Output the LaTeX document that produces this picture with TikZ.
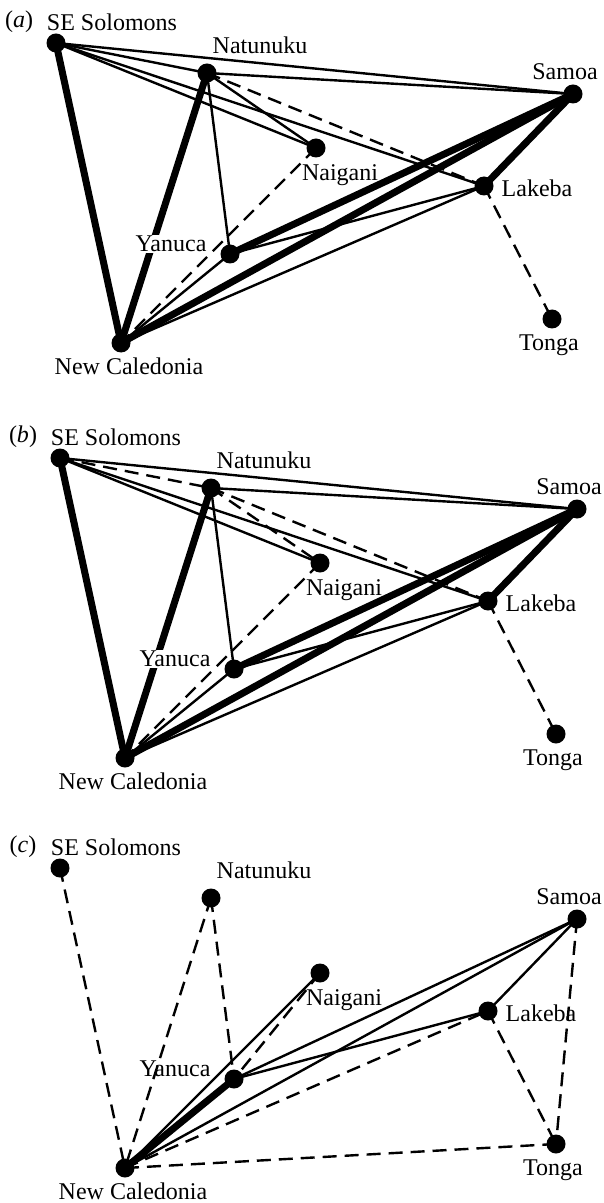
\documentclass[tikz,border=0pt]{standalone}
\usepackage{fontspec}
\setmainfont{Liberation Serif}
\usetikzlibrary{backgrounds}

\tikzset{
  dot/.style={circle, fill=black, inner sep=0pt, minimum size=9.5pt},
  place/.style={font=\fontsize{12}{14}\selectfont, inner sep=0.5pt},
  gap/.style={fill=white},
  link/.style={line width=1.2pt},
  heavy/.style={line width=3.5pt},
  faint/.style={line width=1.2pt, dash pattern=on 7pt off 4pt},
}

% the eight islands of one panel, #1 = prefix of the names, #2 = panel letter
\def\islands#1#2{%
  \node[place] (#1tag) at (23,437) {(\textit{#2})};
  \node[dot] (#1ses) at (60,458) {};
  \node[dot] (#1nat) at (211,488) {};
  \node[dot] (#1sam) at (577,509) {};
  \node[dot] (#1nai) at (320,563) {};
  \node[dot] (#1lak) at (488,601) {};
  \node[dot] (#1yan) at (234,669) {};
  \node[dot] (#1nc) at (125,758) {};
  \node[dot] (#1ton) at (556,734) {};
  \node[place] (#1seslab) at (116,437) {SE Solomons};
  \node[place] (#1natlab) at (264,460) {Natunuku};
  \node[place] (#1samlab) at (569,487) {Samoa};
  \node[place] (#1nailab) at (344,590) {Naigani};
  \node[place] (#1laklab) at (541,603) {Lakeba};
  \node[place, gap] (#1yanlab) at (175,659) {Yanuca};
  \node[place] (#1nclab) at (133,781) {New Caledonia};
  \node[place] (#1tonlab) at (553,760) {Tonga};
}

\begin{document}
\begin{tikzpicture}[x=0.5pt, y=-0.5pt]
			\useasboundingbox (0,0) rectangle (604,1203);
			
			%%%%% (a) %%%%%
			\begin{scope}[shift={(-4,-415)}]
				\islands{a}{a}
			\end{scope}
			\begin{scope}[on background layer]
				\draw[link] (ases.center) -- (asam.center);
				\draw[link] (ases.center) -- (anat.center);
				\draw[link] (ases.center) -- (anai.center);
				\draw[link] (ases.center) -- (alak.center);
				\draw[heavy] (ases.center) -- (anc.center);
				\draw[link] (anat.center) -- (asam.center);
				\draw[link] (anat.center) -- (anai.center);
				\draw[faint] (anat.center) -- (alak.center);
				\draw[link] (anat.center) -- (ayan.center);
				\draw[heavy] (anat.center) -- (anc.center);
				\draw[faint] (anai.center) -- (anc.center);
				\draw[link] (ayan.center) -- (anc.center);
				\draw[heavy] (ayan.center) -- (asam.center);
				\draw[link] (ayan.center) -- (alak.center);
				\draw[heavy] (anc.center) -- (asam.center);
				\draw[link] (anc.center) -- (alak.center);
				\draw[heavy] (asam.center) -- (alak.center);
				\draw[faint] (alak.center) -- (aton.center);
			\end{scope}
			
			%%%%% (b) %%%%%
			\islands{b}{b}
			\begin{scope}[on background layer]
				\draw[link] (bses.center) -- (bsam.center);
				\draw[faint] (bses.center) -- (bnat.center);
				\draw[link] (bses.center) -- (bnai.center);
				\draw[link] (bses.center) -- (blak.center);
				\draw[heavy] (bses.center) -- (bnc.center);
				\draw[link] (bnat.center) -- (bsam.center);
				\draw[faint] (bnat.center) -- (bnai.center);
				\draw[faint] (bnat.center) -- (blak.center);
				\draw[link] (bnat.center) -- (byan.center);
				\draw[heavy] (bnat.center) -- (bnc.center);
				\draw[faint] (bnai.center) -- (bnc.center);
				\draw[link] (byan.center) -- (bnc.center);
				\draw[heavy] (byan.center) -- (bsam.center);
				\draw[link] (byan.center) -- (blak.center);
				\draw[heavy] (bnc.center) -- (bsam.center);
				\draw[link] (bnc.center) -- (blak.center);
				\draw[heavy] (bsam.center) -- (blak.center);
				\draw[faint] (blak.center) -- (bton.center);
			\end{scope}
			
			%%%%% (c) %%%%%
			\begin{scope}[shift={(0,410)}, gap/.style={}]
				\islands{c}{c}
			\end{scope}
			\begin{scope}[on background layer]
				\draw[faint] (cses.center) -- (cnc.center);
				\draw[faint] (cnat.center) -- (cnc.center);
				\draw[faint] (cnat.center) -- (cyan.center);
				\draw[faint] (cnai.center) -- (cyan.center);
				\draw[link] (cnai.center) -- (cnc.center);
				\draw[heavy] (cyan.center) -- (cnc.center);
				\draw[link] (cyan.center) -- (csam.center);
				\draw[link] (cyan.center) -- (clak.center);
				\draw[link] (cnc.center) -- (csam.center);
				\draw[faint] (cnc.center) -- (clak.center);
				\draw[faint] (cnc.center) -- (cton.center);
				\draw[link] (csam.center) -- (clak.center);
				\draw[faint] (csam.center) -- (cton.center);
				\draw[faint] (clak.center) -- (cton.center);
			\end{scope}
\end{tikzpicture}
\end{document}
